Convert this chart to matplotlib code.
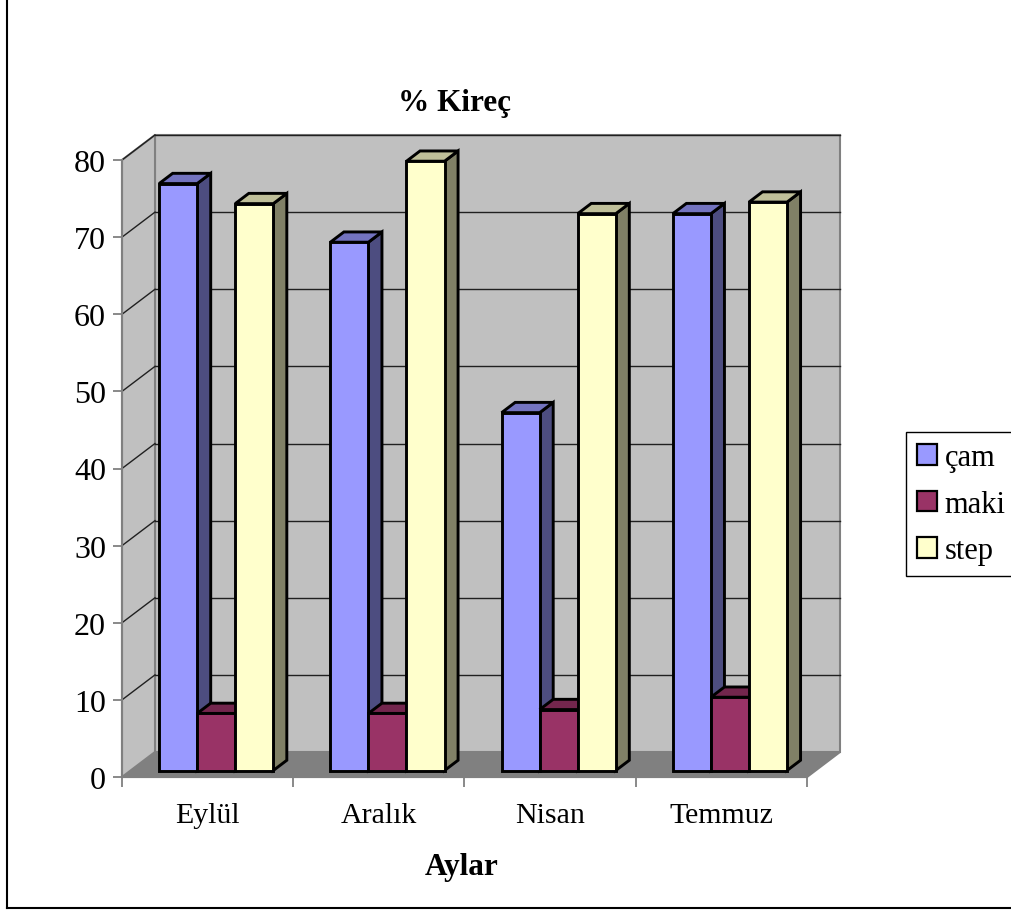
import matplotlib
matplotlib.use("Agg")
import matplotlib.pyplot as plt
from matplotlib.patches import Polygon, Patch
from matplotlib.lines import Line2D

# Data
months = ["Eylül", "Aralık", "Nisan", "Temmuz"]
series_names = ["çam", "maki", "step"]
cam = [76.1, 68.5, 46.4, 72.2]
maki = [7.4, 7.4, 7.9, 9.5]
step = [73.5, 79.0, 72.2, 73.7]
y_ticks = [0, 10, 20, 30, 40, 50, 60, 70, 80]

# Colours: front, top, side faces
face_colors = {
    "çam": ("#9999FF", "#7373BF", "#4D4D80"),
    "maki": ("#993366", "#73264D", "#4D1A33"),
    "step": ("#FFFFCC", "#BFBF99", "#808066"),
}

plt.rcParams["font.family"] = ["Liberation Serif", "DejaVu Serif"]

fig = plt.figure(figsize=(10.12, 9.12), dpi=100)
W, H = 1012, 912
# Axes occupies the front plane of the 3-D box
left, right, bottom_px, top_px = 122, 807, 778, 161
ax = fig.add_axes([left / W, 1 - bottom_px / H, (right - left) / W, (bottom_px - top_px) / H])
ncat = len(months)
ymax = 80
ax.set_xlim(0, ncat)
ax.set_ylim(0, ymax)
ax.patch.set_visible(False)

# Depth offset of the back wall expressed in data units
px_per_cat = (right - left) / ncat
px_per_unit = (bottom_px - top_px) / ymax
DX = 33 / px_per_cat
DY = 25 / px_per_unit

wall_kw = dict(clip_on=False, edgecolor="#808080", linewidth=1.5)
# Floor
ax.add_patch(Polygon([(0, 0), (ncat, 0), (ncat + DX, DY), (DX, DY)],
                     facecolor="#808080", zorder=0.5, **wall_kw))
# Back wall
ax.add_patch(Polygon([(DX, DY), (ncat + DX, DY), (ncat + DX, ymax + DY), (DX, ymax + DY)],
                     facecolor="#C0C0C0", zorder=0.5, **wall_kw))
# Side wall
ax.add_patch(Polygon([(0, 0), (DX, DY), (DX, ymax + DY), (0, ymax)],
                     facecolor="#C0C0C0", zorder=0.5, **wall_kw))

# Gridlines on back and side walls
for v in y_ticks[1:]:
    ax.add_line(Line2D([DX, ncat + DX], [v + DY, v + DY], color="#202020",
                       linewidth=1.0, clip_on=False, zorder=0.6))
    ax.add_line(Line2D([0, DX], [v, v + DY], color="#202020",
                       linewidth=1.0, clip_on=False, zorder=0.6))

# 3-D columns
nser = len(series_names)
gap = 1.5
bw = 1 / (nser + gap)
d0, d1 = 0.26, 0.67
values = [cam, maki, step]
edge_kw = dict(clip_on=False, edgecolor="black", linewidth=2.1, joinstyle="miter")
z = 1.0
for i in range(ncat):
    for s, name in enumerate(series_names):
        v = values[s][i]
        front, topc, side = face_colors[name]
        x0 = i + gap * bw / 2 + s * bw
        x1 = x0 + bw
        ox0, oy0 = d0 * DX, d0 * DY
        ox1, oy1 = d1 * DX, d1 * DY
        side_poly = [(x1 + ox0, oy0), (x1 + ox0, v + oy0), (x1 + ox1, v + oy1), (x1 + ox1, oy1)]
        top_poly = [(x0 + ox0, v + oy0), (x1 + ox0, v + oy0), (x1 + ox1, v + oy1), (x0 + ox1, v + oy1)]
        front_poly = [(x0 + ox0, oy0), (x1 + ox0, oy0), (x1 + ox0, v + oy0), (x0 + ox0, v + oy0)]
        ax.add_patch(Polygon(side_poly, facecolor=side, zorder=z, **edge_kw))
        ax.add_patch(Polygon(top_poly, facecolor=topc, zorder=z + 0.01, **edge_kw))
        ax.add_patch(Polygon(front_poly, facecolor=front, zorder=z + 0.02, **edge_kw))
        z += 0.1

# Axes spines and ticks
for sp in ["top", "right"]:
    ax.spines[sp].set_visible(False)
for sp in ["left", "bottom"]:
    ax.spines[sp].set_color("#808080")
    ax.spines[sp].set_linewidth(1.5)
    ax.spines[sp].set_zorder(0.7)

ax.set_yticks(y_ticks)
ax.set_yticklabels([str(t) for t in y_ticks])
ax.tick_params(axis="y", length=6.5, width=1.3, color="#808080", pad=5, labelsize=23)

ax.set_xticks(range(ncat + 1))
ax.set_xticklabels([""] * (ncat + 1))
ax.set_xticks([i + 0.5 for i in range(ncat)], minor=True)
ax.set_xticklabels(months, minor=True)
ax.tick_params(axis="x", which="major", length=7.5, width=1.3, color="#808080")
ax.tick_params(axis="x", which="minor", length=0, pad=18, labelsize=21.5)

# Titles
fig.text(455 / W, 1 - 104 / H, "% Kireç", ha="center", va="center",
         fontsize=22.5, fontweight="bold")
fig.text(462 / W, 1 - 868 / H, "Aylar", ha="center", va="center",
         fontsize=22.5, fontweight="bold")

# Legend
handles = [Patch(facecolor=face_colors[n][0], edgecolor="black", linewidth=1.6)
           for n in series_names]
leg = fig.legend(handles, series_names, loc="upper left",
                 bbox_to_anchor=(906 / W, 1 - 433 / H), bbox_transform=fig.transFigure,
                 fontsize=22, handlelength=0.66, handleheight=0.66, handletextpad=0.25,
                 labelspacing=0.58, borderpad=0.36, borderaxespad=0, fancybox=False,
                 framealpha=1, edgecolor="black")
leg.get_frame().set_linewidth(1.0)

# Page border (left and bottom edges)
fig.add_artist(Line2D([7 / W, 7 / W], [1, 1 - 909 / H], color="black", linewidth=1.5,
                      transform=fig.transFigure))
fig.add_artist(Line2D([7 / W, 1], [1 - 909 / H, 1 - 909 / H], color="black", linewidth=1.5,
                      transform=fig.transFigure))

fig.savefig("out.png", dpi=100)
